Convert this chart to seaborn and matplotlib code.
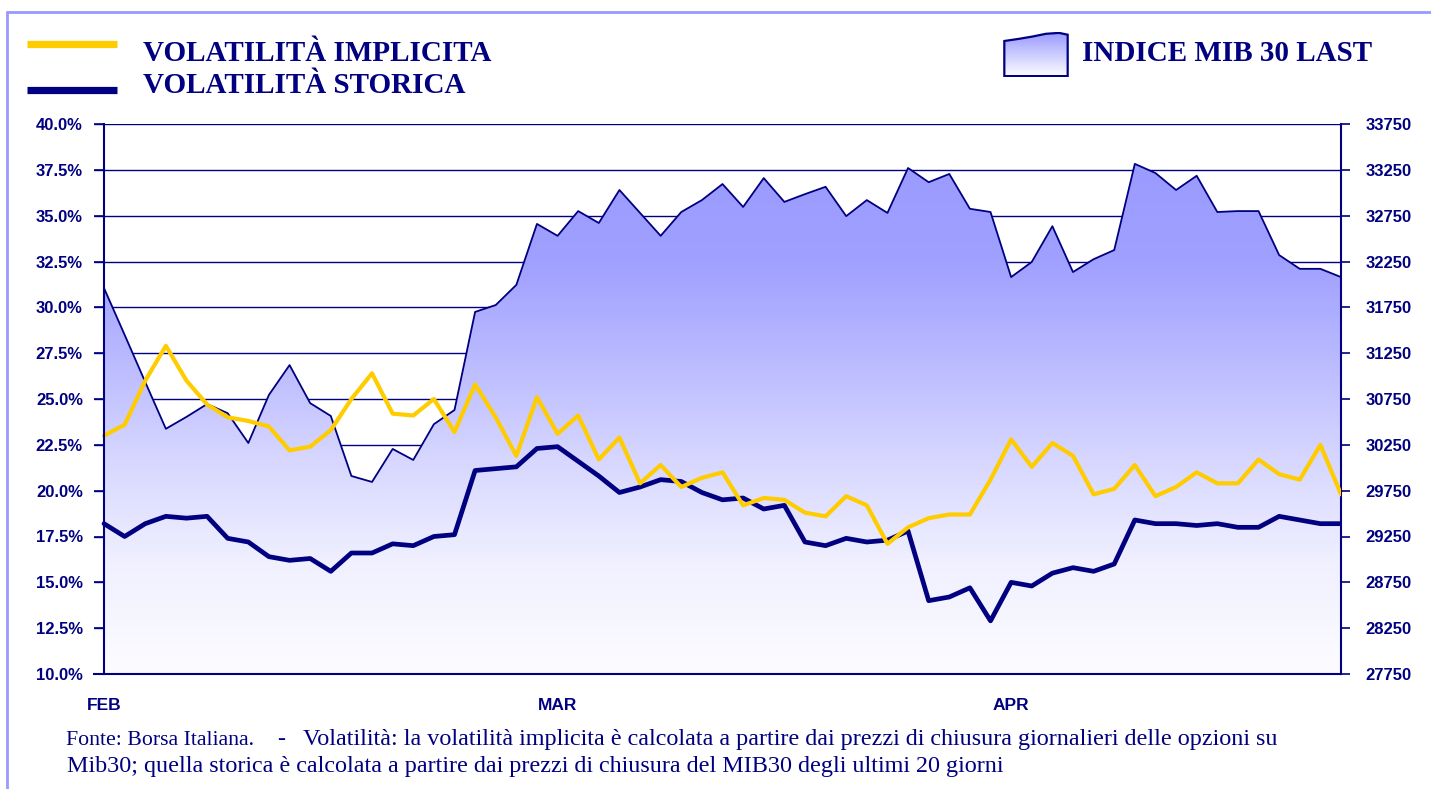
import numpy as np
import pandas as pd
import matplotlib
matplotlib.use('Agg')
import matplotlib.pyplot as plt
from matplotlib.colors import LinearSegmentedColormap
from matplotlib.lines import Line2D
from matplotlib.patches import Polygon
from matplotlib import font_manager
import seaborn as sns

# --- dati (giorni di borsa feb-apr) ---
giorni = list(range(61))
mib30 = [31960, 31450, 30935, 30425, 30555, 30695, 30595, 30270, 30795, 31120,
         30705, 30565, 29910, 29845, 30205, 30085, 30475, 30630, 31700, 31775,
         31995, 32660, 32530, 32800, 32670, 33030, 32780, 32530, 32790, 32920,
         33095, 32845, 33160, 32900, 32985, 33065, 32745, 32920, 32780, 33270,
         33115, 33205, 32825, 32790, 32080, 32245, 32635, 32135, 32275, 32375,
         33315, 33215, 33030, 33185, 32790, 32800, 32800, 32320, 32170, 32170,
         32080]
vol_implicita = [23.0, 23.6, 26.0, 27.9, 26.0, 24.7, 24.0, 23.8, 23.5, 22.2,
                 22.4, 23.3, 25.0, 26.4, 24.2, 24.1, 25.0, 23.2, 25.8, 24.0,
                 21.9, 25.1, 23.1, 24.1, 21.7, 22.9, 20.4, 21.4, 20.2, 20.7,
                 21.0, 19.2, 19.6, 19.5, 18.8, 18.6, 19.7, 19.2, 17.1, 18.0,
                 18.5, 18.7, 18.7, 20.6, 22.8, 21.3, 22.6, 21.9, 19.8, 20.1,
                 21.4, 19.7, 20.2, 21.0, 20.4, 20.4, 21.7, 20.9, 20.6, 22.5,
                 19.8]
vol_storica = [18.2, 17.5, 18.2, 18.6, 18.5, 18.6, 17.4, 17.2, 16.4, 16.2,
               16.3, 15.6, 16.6, 16.6, 17.1, 17.0, 17.5, 17.6, 21.1, 21.2,
               21.3, 22.3, 22.4, 21.6, 20.8, 19.9, 20.2, 20.6, 20.5, 19.9,
               19.5, 19.6, 19.0, 19.2, 17.2, 17.0, 17.4, 17.2, 17.3, 17.8,
               14.0, 14.2, 14.7, 12.9, 15.0, 14.8, 15.5, 15.8, 15.6, 16.0,
               18.4, 18.2, 18.2, 18.1, 18.2, 18.0, 18.0, 18.6, 18.4, 18.2,
               18.2]
mesi = ['FEB', 'MAR', 'APR']
mesi_label_pos = [0, 22, 44]
mesi_tick_pos = [-0.5, 21.5, 43.5]
vol_ticks = np.arange(10, 40.01, 2.5)
mib_ticks = np.arange(27750, 33751, 500)

NAVY = '#000080'
YELLOW = '#FFCC00'

sns.set_style('white')
plt.rcParams['font.family'] = ['Liberation Sans', 'DejaVu Sans']
names = {f.name for f in font_manager.fontManager.ttflist}
narrow = 'Liberation Sans Narrow' if 'Liberation Sans Narrow' in names else 'Liberation Sans'

df = pd.DataFrame({'giorno': giorni, 'mib30': mib30,
                   'implicita': vol_implicita, 'storica': vol_storica})

W, H = 1431, 789
fig = plt.figure(figsize=(W / 100, H / 100), dpi=100)
fx = lambda px: px / W
fy = lambda py: 1 - py / H

ax = fig.add_axes([fx(93.7), fy(674), fx(1341) - fx(93.7), fy(124) - fy(674)])
ax2 = ax.twinx()

# area indice con sfumatura
cmap = LinearSegmentedColormap.from_list('mib', [(0, '#FCFCFF'), (0.2, '#F0F0FF'), (0.38, '#D8D8FF'),
                                                 (0.565, '#BBBBFF'), (0.75, '#A0A0FF'), (1, '#9999FF')])
poly = ax.fill_between(df['giorno'], df['mib30'], 27750, facecolor='none', edgecolor='none')
grad = np.linspace(0, 1, 256).reshape(-1, 1)
im = ax.imshow(grad, extent=[-0.5, 60, 27750, 33750], origin='lower', aspect='auto', cmap=cmap, zorder=1)
im.set_clip_path(poly.get_paths()[0], transform=ax.transData)
sns.lineplot(data=df, x='giorno', y='mib30', ax=ax, color=NAVY, lw=1.3, zorder=2)

# volatilita
sns.lineplot(data=df, x='giorno', y='storica', ax=ax2, color=NAVY, lw=3.4,
             solid_joinstyle='round', solid_capstyle='round')
sns.lineplot(data=df, x='giorno', y='implicita', ax=ax2, color=YELLOW, lw=3.0,
             solid_joinstyle='round', solid_capstyle='round')

ax.set_xlim(-0.5, 60)
ax.set_ylim(27750, 33750)
ax2.set_ylim(10, 40)
for a in (ax, ax2):
    a.set_xlabel('')
    a.set_ylabel('')

ax.yaxis.grid(True, color=NAVY, lw=1.0)
ax.set_axisbelow(True)

# assi
ax.yaxis.set_ticks_position('right')
ax.set_yticks(mib_ticks)
ax.set_yticklabels([str(int(v)) for v in mib_ticks])
ax2.yaxis.set_ticks_position('left')
ax2.set_yticks(vol_ticks)
ax2.set_yticklabels([f'{v:.1f}%' for v in vol_ticks])
ax2.spines['left'].set_position(('data', 0))

ax.set_xticks(mesi_tick_pos)
ax.set_xticklabels([])
ax.set_xticks(mesi_label_pos, minor=True)
ax.set_xticklabels(mesi, minor=True)

for s in ['top', 'left']:
    ax.spines[s].set_visible(False)
for s in ['right', 'bottom']:
    ax.spines[s].set_color(NAVY)
    ax.spines[s].set_linewidth(1.5)
for s in ['top', 'right', 'bottom']:
    ax2.spines[s].set_visible(False)
ax2.spines['left'].set_color(NAVY)
ax2.spines['left'].set_linewidth(1.5)

ax.tick_params(axis='y', direction='out', length=6.5, width=1.2, color=NAVY, pad=11,
               labelsize=12, labelcolor=NAVY, right=True, left=False)
ax2.tick_params(axis='y', direction='out', length=7.2, width=1.2, color=NAVY, pad=8,
                labelsize=12, labelcolor=NAVY)
ax.tick_params(axis='x', which='major', direction='out', length=5, width=1.2, color=NAVY)
ax.tick_params(axis='x', which='minor', length=0, pad=17, labelsize=12.5, labelcolor=NAVY)
for lab in ax.get_yticklabels() + ax2.get_yticklabels():
    lab.set_fontweight('bold')
for lab in ax.get_xticklabels(minor=True):
    lab.set_fontweight('bold')
    lab.set_family(narrow)

# legenda
fig.add_artist(Line2D([fx(27), fx(117)], [fy(43.5), fy(43.5)], color=YELLOW, lw=5.2,
                      solid_capstyle='butt'))
fig.add_artist(Line2D([fx(27), fx(117)], [fy(90), fy(90)], color=NAVY, lw=5.2,
                      solid_capstyle='butt'))
leg_font = dict(family='Liberation Serif', weight='bold', size=21, color=NAVY, va='baseline')
fig.text(fx(143), fy(61), 'VOLATILITÀ IMPLICITA', **leg_font)
fig.text(fx(143), fy(93), 'VOLATILITÀ STORICA', **leg_font)
fig.text(fx(1082), fy(61), 'INDICE MIB 30 LAST', **leg_font)

icon = fig.add_axes([fx(1003), fy(77), fx(1069) - fx(1003), fy(32) - fy(77)])
icon.set_xlim(0, 1)
icon.set_ylim(0, 1)
icon.axis('off')
shape = Polygon([(0.02, 0.02), (0.02, 0.8), (0.25, 0.85), (0.45, 0.9), (0.65, 0.96),
                 (0.85, 0.98), (0.98, 0.94), (0.98, 0.02)], closed=True,
                facecolor='none', edgecolor=NAVY, lw=1.6, zorder=3)
icon.add_patch(shape)
gi = icon.imshow(grad, extent=[0, 1, 0, 1], origin='lower', aspect='auto',
                 cmap=LinearSegmentedColormap.from_list('ic', ['#FFFFFF', '#9999FF']), zorder=2)
gi.set_clip_path(shape)

# cornice
fig.add_artist(Line2D([fx(7), 1], [fy(12), fy(12)], color='#9999FF', lw=2))
fig.add_artist(Line2D([fx(7), fx(7)], [fy(12), 0], color='#9999FF', lw=2))

# nota
note = dict(family='Liberation Serif', color=NAVY, va='baseline')
fig.text(fx(66), fy(745), 'Fonte: Borsa Italiana.', size=15.7, **note)
fig.text(fx(277), fy(745), '-', size=17.4, **note)
fig.text(fx(303), fy(745), 'Volatilità: la volatilità implicita è calcolata a partire dai prezzi '
         'di chiusura giornalieri delle opzioni su', size=17.4, **note)
fig.text(fx(67), fy(772), 'Mib30; quella storica è calcolata a partire dai prezzi di chiusura '
         'del MIB30 degli ultimi 20 giorni', size=17.4, **note)

fig.savefig('out.png', dpi=100)
